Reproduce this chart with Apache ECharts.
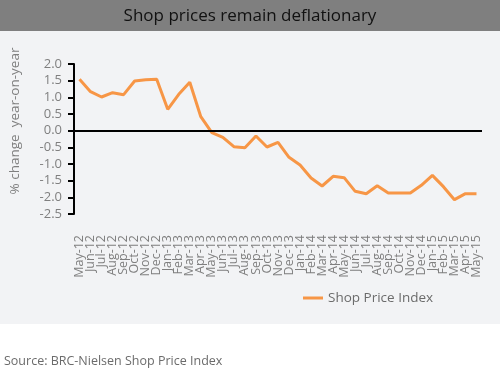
<!DOCTYPE html>
<html>
<head>
<meta charset="utf-8">
<script src="https://cdn.jsdelivr.net/npm/echarts@6/dist/echarts.min.js"></script>
<style>
  html, body { margin: 0; padding: 0; background: #fff; }
  #chart { width: 500px; height: 376px; }
</style>
</head>
<body>
<div id="chart"></div>
<script>
// monthly labels, May-12 .. May-15
const months = [
  'May-12','Jun-12','Jul-12','Aug-12','Sep-12','Oct-12','Nov-12','Dec-12',
  'Jan-13','Feb-13','Mar-13','Apr-13','May-13','Jun-13','Jul-13','Aug-13',
  'Sep-13','Oct-13','Nov-13','Dec-13','Jan-14','Feb-14','Mar-14','Apr-14',
  'May-14','Jun-14','Jul-14','Aug-14','Sep-14','Oct-14','Nov-14','Dec-14',
  'Jan-15','Feb-15','Mar-15','Apr-15','May-15'
];
// % change year-on-year
const shopPriceIndex = [
  1.54, 1.17, 1.01, 1.14, 1.08, 1.49, 1.53, 1.54,
  0.64, 1.09, 1.45, 0.42, -0.06, -0.20, -0.48, -0.51,
  -0.16, -0.49, -0.35, -0.80, -1.03, -1.42, -1.66, -1.37,
  -1.41, -1.82, -1.89, -1.65, -1.87, -1.87, -1.87, -1.64,
  -1.34, -1.68, -2.07, -1.89, -1.89
];

const chart = echarts.init(document.getElementById('chart'));
const orange = '#f79646';
const grey = '#7f7f7f';

chart.setOption({
  animation: false,
  backgroundColor: '#ffffff',
  graphic: [
    { type: 'rect', left: 0, top: 0, z: -10, shape: { width: 500, height: 31 }, style: { fill: '#7f7f7f' } },
    { type: 'rect', left: 0, top: 31, z: -10, shape: { width: 500, height: 293 }, style: { fill: '#f2f3f5' } }
  ],
  title: [
    {
      text: 'Shop prices remain deflationary',
      left: 'center', top: 3,
      textStyle: { fontFamily: 'Open Sans', fontSize: 17, fontWeight: 'normal', color: '#111' }
    },
    {
      text: 'Source: BRC-Nielsen Shop Price Index',
      left: -1, top: 350,
      textStyle: { fontFamily: 'Open Sans', fontSize: 12.5, fontWeight: 'normal', color: '#6b6b6b' }
    }
  ],
  legend: {
    data: ['Shop Price Index'],
    left: 303, top: 291, padding: 0,
    icon: 'rect', itemWidth: 20, itemHeight: 3, itemGap: 4,
    textStyle: { fontFamily: 'Open Sans', fontSize: 13.5, color: '#6b6b6b' }
  },
  grid: { left: 72, right: 18, top: 64, bottom: 162 },
  xAxis: {
    type: 'category',
    data: months,
    boundaryGap: true,
    axisLine: { show: false },
    axisTick: { show: false },
    axisLabel: {
      rotate: 90, interval: 0, margin: 21,
      fontFamily: 'Open Sans', fontSize: 12.5, color: grey
    }
  },
  yAxis: {
    type: 'value',
    min: -2.5, max: 2.0, interval: 0.5,
    name: '% change  year-on-year',
    nameLocation: 'middle',
    nameGap: 52,
    nameTextStyle: { fontFamily: 'Open Sans', fontSize: 13.5, color: grey, padding: [0, 0, 0, 36] },
    axisLine: { show: true, lineStyle: { color: '#000', width: 2 } },
    axisTick: { show: true, length: 6, lineStyle: { color: '#000', width: 2 } },
    splitLine: { show: false },
    axisLabel: {
      margin: 12,
      fontFamily: 'Open Sans', fontSize: 13, color: grey,
      formatter: v => v.toFixed(1)
    }
  },
  series: [
    {
      name: 'Shop Price Index',
      type: 'line',
      data: shopPriceIndex,
      symbol: 'none',
      color: orange,
      lineStyle: { color: orange, width: 3 },
      markLine: {
        silent: true,
        symbol: 'none',
        label: { show: false },
        lineStyle: { color: '#000', width: 2, type: 'solid' },
        data: [{ yAxis: 0 }]
      }
    }
  ]
});
</script>
</body>
</html>
